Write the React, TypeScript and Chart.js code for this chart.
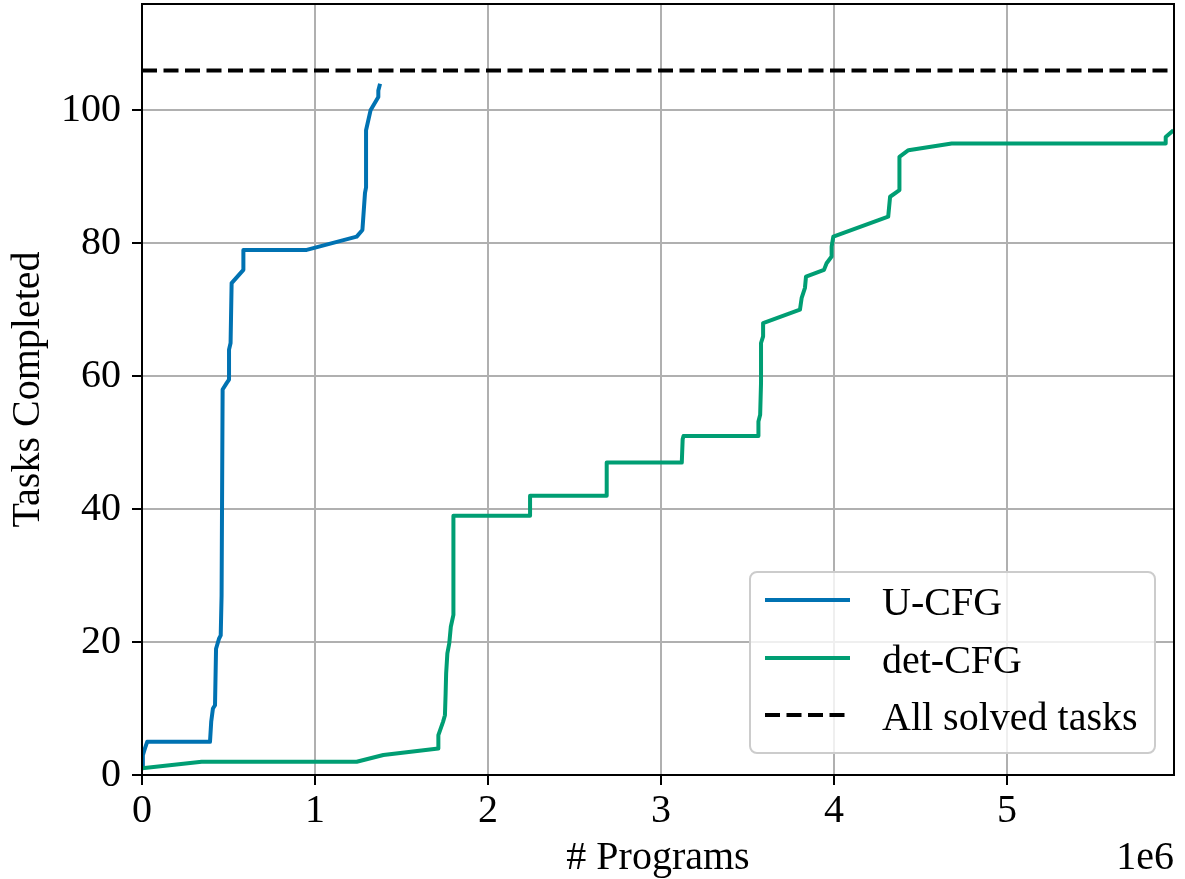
import React, { useEffect, useRef } from 'react';
import { Chart, registerables } from 'chart.js';

Chart.register(...registerables);

// ---- data (x in units of 1e6 programs) ----
const seriesNames = ['U-CFG', 'det-CFG', 'All solved tasks'];

const uCfgX = [0, 0.005, 0.017, 0.03, 0.393, 0.4, 0.41, 0.422, 0.428, 0.445, 0.455, 0.46, 0.466, 0.49, 0.503, 0.503, 0.512, 0.518, 0.586, 0.586, 0.952, 1.241, 1.274, 1.289, 1.295, 1.295, 1.321, 1.366, 1.366, 1.376];
const uCfgY = [1, 3, 4, 5, 5, 8, 10, 10.5, 19, 20.5, 21, 27, 58, 59, 59.5, 64, 65, 74, 76, 79, 79, 81, 82, 87.6, 88.4, 97, 100, 102, 103, 104];

const detCfgX = [0, 0.345, 1.241, 1.395, 1.713, 1.713, 1.74, 1.751, 1.755, 1.758, 1.765, 1.776, 1.785, 1.8, 1.8, 2.243, 2.243, 2.686, 2.686, 3.12, 3.125, 3.13, 3.563, 3.563, 3.573, 3.578, 3.578, 3.59, 3.59, 3.803, 3.813, 3.832, 3.838, 3.942, 3.957, 3.986, 3.986, 3.996, 4.313, 4.324, 4.378, 4.378, 4.43, 4.68, 5.917, 5.917, 5.962];
const detCfgY = [1, 2, 2, 3, 4, 6, 8, 9, 12.3, 15.3, 18.3, 19.8, 22.3, 24.1, 39, 39, 42, 42, 47, 47, 50.5, 51, 51, 53.2, 54.2, 59, 65, 66, 68, 70, 71.8, 73.3, 75, 76, 77, 78, 79.5, 81, 84, 87, 88, 93, 94, 95, 95, 96, 97];

const allSolvedTasks = 106;
const xMin = 0;
const xMax = 5.965;
const yMin = 0;
const yMax = 116;
const xTickStep = 1;
const yTickStep = 20;
const xAxisTitle = '# Programs';
const yAxisTitle = 'Tasks Completed';
const xOffsetText = '1e6';

const colors = ['#0072B2', '#009E73', '#000000'];
const FONT = "'Liberation Serif', 'Times New Roman', serif";
const FS = 40;

function toPoints(xs: number[], ys: number[]) {
  return xs.map((x, i) => ({ x, y: ys[i] }));
}

const framePlugin = {
  id: 'frameAndLegend',
  afterDatasetsDraw(chart: any) {
    const { ctx, chartArea } = chart;
    ctx.save();
    ctx.strokeStyle = '#000';
    ctx.lineWidth = 2;
    ctx.strokeRect(chartArea.left, chartArea.top, chartArea.right - chartArea.left, chartArea.bottom - chartArea.top);
    ctx.restore();
  },
  afterDraw(chart: any) {
    const { ctx, chartArea } = chart;
    ctx.save();
    // offset text
    ctx.font = `${FS}px ${FONT}`;
    ctx.fillStyle = '#000';
    ctx.textAlign = 'right';
    ctx.textBaseline = 'alphabetic';
    ctx.fillText(xOffsetText, chartArea.right, 869);

    // legend
    const w = 405;
    const h = 181;
    const bx = chartArea.right - 19 - w;
    const by = chartArea.bottom - 22 - h;
    const r = 7;
    ctx.beginPath();
    ctx.moveTo(bx + r, by);
    ctx.lineTo(bx + w - r, by);
    ctx.arcTo(bx + w, by, bx + w, by + r, r);
    ctx.lineTo(bx + w, by + h - r);
    ctx.arcTo(bx + w, by + h, bx + w - r, by + h, r);
    ctx.lineTo(bx + r, by + h);
    ctx.arcTo(bx, by + h, bx, by + h - r, r);
    ctx.lineTo(bx, by + r);
    ctx.arcTo(bx, by, bx + r, by, r);
    ctx.closePath();
    ctx.fillStyle = 'rgba(255,255,255,0.8)';
    ctx.fill();
    ctx.strokeStyle = '#cccccc';
    ctx.lineWidth = 2;
    ctx.stroke();

    const rows = [28, 86, 143];
    const dsets = chart.data.datasets;
    rows.forEach((ry, i) => {
      const y = by + ry;
      const ds = dsets[i];
      ctx.beginPath();
      ctx.setLineDash(ds.borderDash || []);
      ctx.strokeStyle = ds.borderColor;
      ctx.lineWidth = ds.borderWidth;
      ctx.moveTo(bx + 15, y);
      ctx.lineTo(bx + 100, y);
      ctx.stroke();
      ctx.setLineDash([]);
      ctx.fillStyle = '#000';
      ctx.textAlign = 'left';
      ctx.textBaseline = 'alphabetic';
      ctx.font = `${FS}px ${FONT}`;
      ctx.fillText(ds.label, bx + 132, y + 14.5);
    });
    ctx.restore();
  },
};

export default function App() {
  const canvasRef = useRef<HTMLCanvasElement | null>(null);

  useEffect(() => {
    document.body.style.margin = '0';
    const canvas = canvasRef.current;
    if (!canvas) return;
    const chart = new Chart(canvas, {
      type: 'line',
      data: {
        datasets: [
          {
            label: seriesNames[0],
            data: toPoints(uCfgX, uCfgY),
            borderColor: colors[0],
            backgroundColor: colors[0],
            borderWidth: 4,
            pointRadius: 0,
            fill: false,
            tension: 0,
            borderJoinStyle: 'round',
            order: 2,
          },
          {
            label: seriesNames[1],
            data: toPoints(detCfgX, detCfgY),
            borderColor: colors[1],
            backgroundColor: colors[1],
            borderWidth: 4,
            pointRadius: 0,
            fill: false,
            tension: 0,
            borderJoinStyle: 'round',
            order: 1,
          },
          {
            label: seriesNames[2],
            data: toPoints([xMin, xMax], [allSolvedTasks, allSolvedTasks]),
            borderColor: colors[2],
            backgroundColor: colors[2],
            borderWidth: 4,
            borderDash: [15, 6.5],
            pointRadius: 0,
            fill: false,
            tension: 0,
            order: 0,
          },
        ],
      },
      options: {
        animation: false,
        responsive: false,
        maintainAspectRatio: false,
        layout: { padding: { top: 4, right: 11, left: 0, bottom: 0 } },
        plugins: {
          legend: { display: false },
          tooltip: { enabled: false },
          title: { display: false },
        },
        scales: {
          x: {
            type: 'linear',
            min: xMin,
            max: xMax,
            afterFit: (s: any) => { s.height = 104; s.paddingLeft = 0; s.paddingRight = 0; },
            ticks: {
              stepSize: xTickStep,
              includeBounds: false,
              color: '#000',
              font: { family: FONT, size: FS },
              padding: 2,
              maxRotation: 0,
              autoSkip: false,
              callback: (v: any) => String(v),
            },
            grid: {
              color: '#b0b0b0',
              lineWidth: 2,
              drawTicks: true,
              tickLength: 10,
              tickWidth: 2,
              tickColor: '#000',
            },
            border: { display: false },
            title: {
              display: true,
              text: xAxisTitle,
              color: '#000',
              font: { family: FONT, size: FS },
              padding: { top: 0, bottom: -3 },
            },
          },
          y: {
            type: 'linear',
            min: yMin,
            max: yMax,
            afterFit: (s: any) => { s.width = 142; s.paddingTop = 0; s.paddingBottom = 0; },
            ticks: {
              stepSize: yTickStep,
              includeBounds: false,
              color: '#000',
              font: { family: FONT, size: FS },
              padding: 11,
              callback: (v: any) => String(v),
            },
            grid: {
              color: '#b0b0b0',
              lineWidth: 2,
              drawTicks: true,
              tickLength: 10,
              tickWidth: 2,
              tickColor: '#000',
            },
            border: { display: false },
            title: {
              display: true,
              text: yAxisTitle,
              color: '#000',
              font: { family: FONT, size: FS },
              padding: { top: 4, bottom: 0 },
            },
          },
        },
      },
      plugins: [framePlugin],
    } as any);
    return () => chart.destroy();
  }, []);

  return (
    <div style={{ position: 'absolute', left: 0, top: 0, width: 1185, height: 879, background: '#fff' }}>
      <canvas ref={canvasRef} width={1185} height={879} style={{ width: 1185, height: 879, display: 'block' }} />
    </div>
  );
}
